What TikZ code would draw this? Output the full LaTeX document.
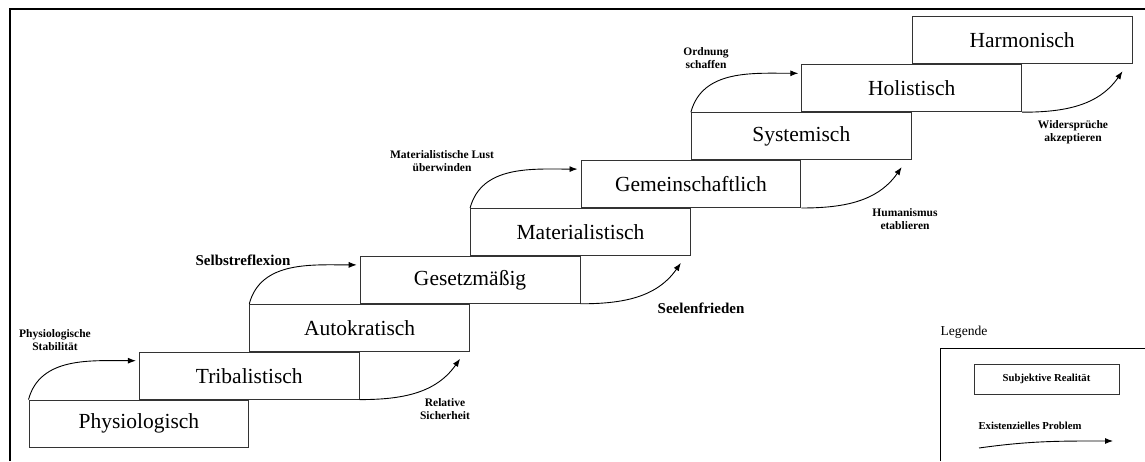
\documentclass[tikz,border=0pt]{standalone}
\usepackage{fontspec}
\setmainfont{Liberation Serif}
\usetikzlibrary{arrows.meta,calc,positioning}

\begin{document}
\begin{tikzpicture}[x=1pt,y=1pt,
		stufe/.style={draw=black!80,line width=1pt,minimum width=219.8pt,minimum height=46.9pt,inner sep=0pt,anchor=south west,font=\fontsize{21.5}{26}\selectfont},
		problem/.style={-{Latex[length=8pt,width=6pt]},line width=0.9pt},
		notiz/.style={align=center,font=\fontsize{11.5}{12.5}\selectfont\bfseries},
		notizgross/.style={font=\fontsize{15}{18}\selectfont\bfseries}]
		\useasboundingbox (0,0) rectangle (1145,461);
		\draw[line width=1.2pt] (10,0) -- (10,452) -- (1145,452);
		% Stufen
		\node[stufe] (phy) at (28.5,13.5) {Physiologisch};
		\node[stufe] (tri) at (phy.north) {Tribalistisch};
		\node[stufe] (aut) at (tri.north) {Autokratisch};
		\node[stufe] (ges) at (aut.north) {Gesetzmäßig};
		\node[stufe] (mat) at (ges.north) {Materialistisch};
		\node[stufe] (gem) at (mat.north) {Gemeinschaftlich};
		\node[stufe] (sys) at (gem.north) {Systemisch};
		\node[stufe] (hol) at (sys.north) {Holistisch};
		\node[stufe] (har) at (hol.north) {Harmonisch};
		% Probleme
		\draw[problem] (phy.north west) to[out=75,in=180] ($(tri.north west)+(-3,-9)$);
		\draw[problem] (aut.north west) to[out=75,in=180] ($(ges.north west)+(-3,-9)$);
		\draw[problem] (mat.north west) to[out=75,in=180] ($(gem.north west)+(-3,-9)$);
		\draw[problem] (sys.north west) to[out=75,in=180] ($(hol.north west)+(-3,-9)$);
		\draw[problem] (tri.south east) to[out=0,in=235] ($(aut.south east)+(-10,-7)$);
		\draw[problem] (ges.south east) to[out=0,in=235] ($(mat.south east)+(-10,-7)$);
		\draw[problem] (gem.south east) to[out=0,in=235] ($(sys.south east)+(-10,-7)$);
		\draw[problem] (hol.south east) to[out=0,in=235] ($(har.south east)+(-10,-7)$);
		\node[notiz] (stab) at (55,121) {Physiologische\\Stabilität};
		\node[notizgross] (refl) at (243,201) {Selbstreflexion};
		\node[notiz] (lust) at (442,300) {Materialistische Lust\\überwinden};
		\node[notiz] (ord) at (706,403) {Ordnung\\schaffen};
		\node[notiz] (sich) at (445,52) {Relative\\Sicherheit};
		\node[notizgross] (seel) at (701,153) {Seelenfrieden};
		\node[notiz] (hum) at (905,242) {Humanismus\\etablieren};
		\node[notiz] (wid) at (1073,329) {Widersprüche\\akzeptieren};
		% Legende
		\draw[line width=0.9pt] (940,0) -- (940,113) -- (1145,113);
		\node[font=\fontsize{13.6}{16}\selectfont] (leg) at (964,129) {Legende};
		\node[draw=black!80,line width=0.9pt,minimum width=145pt,minimum height=30pt,font=\fontsize{10.7}{12}\selectfont\bfseries] (real) at (1046.5,82) {Subjektive Realität};
		\node[font=\fontsize{10.7}{12}\selectfont\bfseries] (exi) at (1030,35) {Existenzielles Problem};
		\coordinate (exa) at (979,13);
		\coordinate (exb) at (1113,20);
		\draw[problem] (exa) to[out=8,in=180] (exb);
	\end{tikzpicture}
\end{document}
